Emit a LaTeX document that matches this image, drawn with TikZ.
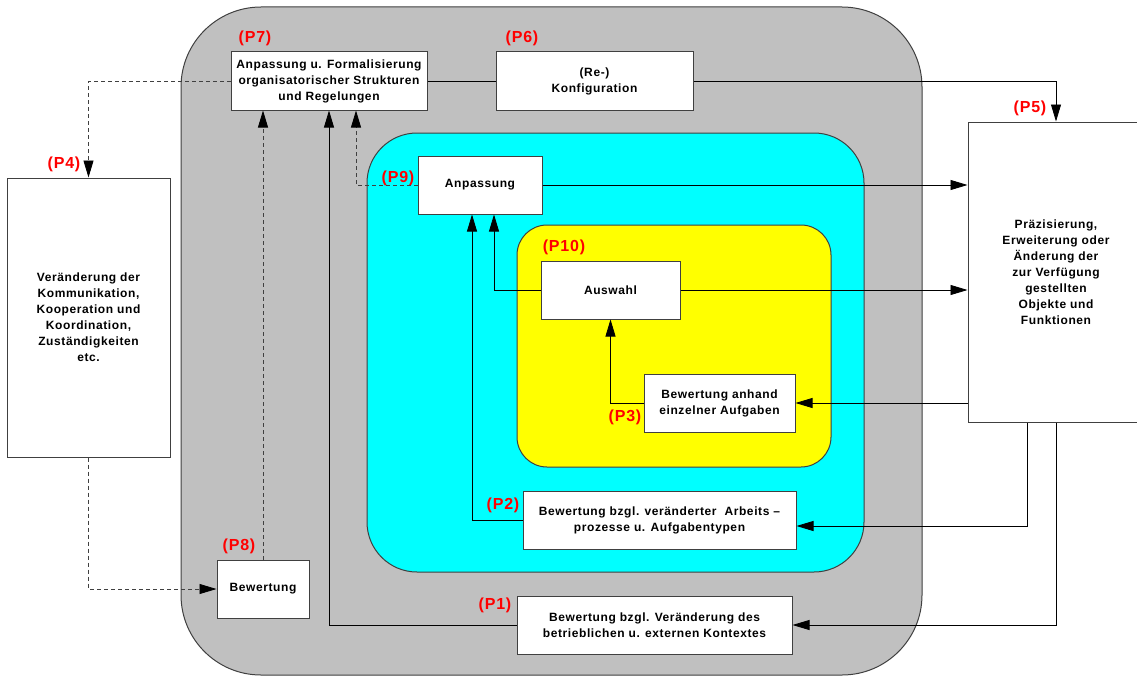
\documentclass[tikz,border=0pt]{standalone}
\usepackage{fontspec}
\setmainfont{Liberation Sans}[LetterSpace=5]
\usetikzlibrary{arrows.meta,positioning,calc}
\definecolor{framegray}{RGB}{192,192,192}
\definecolor{phasecyan}{RGB}{0,255,255}
\definecolor{phaseyellow}{RGB}{255,255,0}
\definecolor{edgegray}{RGB}{64,64,64}

\begin{document}
\begin{tikzpicture}[x=1pt,y=-1pt,
  box/.style={rectangle,draw=edgegray,line width=1pt,fill=white,
              font=\bfseries\fontsize{12}{16}\selectfont,align=center,
              inner sep=2pt},
  lbl/.style={text=red,font=\bfseries\fontsize{16}{18}\selectfont,inner sep=0pt},
  arr/.style={-{Triangle[length=17pt,width=10pt,color=black]},line width=0.8pt},
  dsh/.style={dash pattern=on 4pt off 3pt,draw=edgegray},
  area/.style={draw=edgegray,line width=1pt},
]
\useasboundingbox (0,0) rectangle (1137,677);

% nested areas
\draw[area,fill=framegray,rounded corners=80pt] (181,7) rectangle (922,675);
\draw[area,fill=phasecyan,rounded corners=50pt] (367,133) rectangle (864,572);
\draw[area,fill=phaseyellow,rounded corners=30pt] (517,225) rectangle (831,467);

% boxes
\node[box,minimum width=196pt,minimum height=58pt] (p7) at (329,81)
  {Anpassung u. Formalisierung\\organisatorischer Strukturen\\und Regelungen};
\node[box,minimum width=197pt,minimum height=58pt] (p6) at (594.5,81)
  {(Re-)\\Konfiguration};
\node[box,minimum width=163pt,minimum height=279pt] (p4) at (88.5,317.5)
  {Veränderung der\\Kommunikation,\\Kooperation und\\Koordination,\\Zuständigkeiten\\etc.};
\node[box,minimum width=176pt,minimum height=300pt] (p5) at (1056,272)
  {Präzisierung,\\Erweiterung oder\\Änderung der\\zur Verfügung\\gestellten\\Objekte und\\Funktionen};
\node[box,minimum width=124pt,minimum height=58pt] (p9) at (480,185) {Anpassung};
\node[box,minimum width=139pt,minimum height=58pt] (p10) at (610.5,290) {Auswahl};
\node[box,minimum width=151pt,minimum height=58pt] (p3) at (719.5,403)
  {Bewertung anhand\\einzelner Aufgaben};
\node[box,minimum width=273pt,minimum height=58pt] (p2) at (659.5,520)
  {{Bewertung bzgl. veränderter \ Arbeits –}\\{prozesse u. Aufgabentypen}};
\node[box,minimum width=275pt,minimum height=58pt] (p1) at (654.5,625)
  {Bewertung bzgl. Veränderung des\\betrieblichen u. externen Kontextes};
\node[box,minimum width=92pt,minimum height=58pt] (p8) at (263,589) {Bewertung};

% phase labels
\node[lbl] at (255,38)  {(P7)};
\node[lbl] at (522,38)  {(P6)};
\node[lbl] at (64,164)  {(P4)};
\node[lbl] at (1030,108) {(P5)};
\node[lbl] at (398,178) {(P9)};
\node[lbl] at (564,247) {(P10)};
\node[lbl] at (625,417) {(P3)};
\node[lbl] at (503,505) {(P2)};
\node[lbl] at (239,546) {(P8)};
\node[lbl] at (495,605) {(P1)};

% connectors
\draw[arr,dsh] (p7.west) -| (p4.north);
\draw[line width=0.8pt] (p7.east) -- (p6.west);
\draw[arr] (p6.east) -| (p5.north);
\draw[arr] (p9.east) -- (p9.east -| p5.west);
\draw[arr] (p10.east) -- (p10.east -| p5.west);
\draw[arr] (p5.west |- p3.east) -- (p3.east);
\draw[arr] ([xshift=-29pt]p5.south) |- ([yshift=-6pt]p2.east);
\draw[arr] (p5.south) |- (p1.east);
\draw[arr] (p1.west) -| (p7.south);
\draw[arr] (p2.west) -| ([xshift=-8pt]p9.south);
\draw[arr] (p10.west) -| ([xshift=14pt]p9.south);
\draw[arr] (p3.west) -| (p10.south);
\draw[arr,dsh] (p9.west) -| ([xshift=27pt]p7.south);
\draw[arr,dsh] (p8.north) -- (p8.north |- p7.south);
\draw[arr,dsh] (p4.south) |- (p8.west);
\end{tikzpicture}
\end{document}
